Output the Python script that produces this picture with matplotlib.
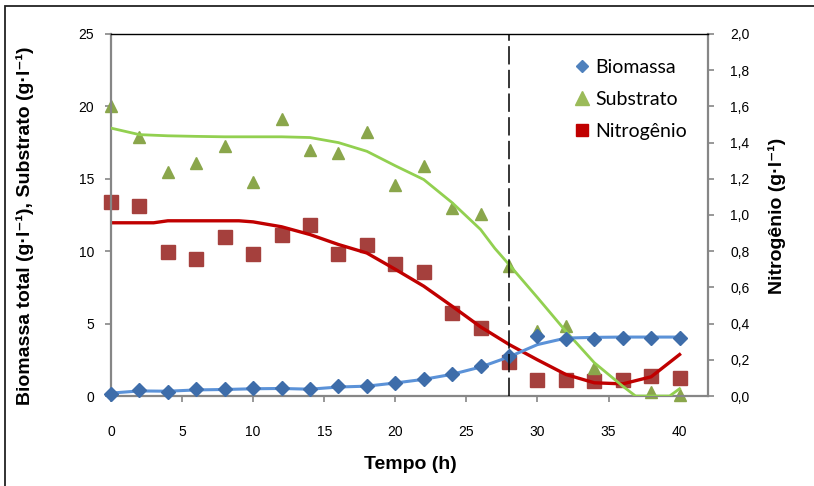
import matplotlib
matplotlib.use("Agg")
import matplotlib.pyplot as plt
from matplotlib.lines import Line2D
from matplotlib.patches import Rectangle
import numpy as np

plt.rcParams['font.family'] = ['Liberation Sans', 'DejaVu Sans']

# ---- measured data ----
tempo = [0, 2, 4, 6, 8, 10, 12, 14, 16, 18, 20, 22, 24, 26, 28, 30, 32, 34, 36, 38, 40]
biomassa = [0.17, 0.38, 0.31, 0.45, 0.45, 0.52, 0.54, 0.45, 0.68, 0.72, 0.91, 1.19,
            1.53, 2.06, 2.75, 4.13, 3.97, 3.97, 4.0, 4.0, 4.0]
substrato = [20.0, 17.9, 15.5, 16.1, 17.25, 14.8, 19.1, 17.0, 16.8, 18.2, 14.6, 15.9,
             13.0, 12.6, 9.0, 4.5, 4.8, 1.95, np.nan, 0.3, 0.05]
nitrogenio = [1.07, 1.05, 0.795, 0.758, 0.88, 0.787, 0.89, 0.947, 0.782, 0.837, 0.732,
              0.686, 0.456, 0.375, 0.187, 0.091, 0.091, 0.082, 0.091, 0.11, 0.10]

# fitted model curves
t_fit_b = [0, 2, 4, 6, 8, 10, 12, 14, 16, 18, 20, 22, 24, 26, 28, 30, 32, 34, 36, 38, 40]
biomassa_fit = [0.2, 0.35, 0.33, 0.42, 0.45, 0.5, 0.52, 0.47, 0.62, 0.68, 0.9, 1.15,
                1.5, 2.0, 2.7, 3.55, 4.0, 4.05, 4.07, 4.07, 4.07]
t_fit_s = [0, 2, 4, 6, 8, 10, 12, 14, 16, 18, 20, 22, 24, 26, 27, 28, 30, 32, 34, 36,
           36.9, 38, 39.3, 40]
substrato_fit = [18.5, 18.05, 17.97, 17.93, 17.9, 17.9, 17.9, 17.85, 17.5, 16.9, 15.9,
                 14.95, 13.35, 11.5, 10.2, 9.08, 6.8, 4.47, 2.3, 0.68, 0.0, 0.0, 0.0, 0.5]
t_fit_n = [0, 3, 4, 9, 10, 12, 14, 16, 18, 20, 22, 24, 26, 28, 30, 32, 34, 36, 38, 40]
nitrogenio_fit = [0.957, 0.957, 0.968, 0.968, 0.962, 0.935, 0.892, 0.837, 0.79, 0.70,
                  0.607, 0.496, 0.382, 0.285, 0.2, 0.119, 0.073, 0.067, 0.106, 0.229]

t_mark = 28
series_names = ['Biomassa', 'Substrato', 'Nitrogênio']
x_ticks = [0, 5, 10, 15, 20, 25, 30, 35, 40]
y_left_ticks = [0, 5, 10, 15, 20, 25]
y_right_ticks = [0.0, 0.2, 0.4, 0.6, 0.8, 1.0, 1.2, 1.4, 1.6, 1.8, 2.0]

# ---- figure ----
W, H = 814, 486
fig = plt.figure(figsize=(W / 100, H / 100), dpi=100)
L, R, T, B = 111, 708, 34, 396
ax = fig.add_axes([L / W, 1 - B / H, (R - L) / W, (B - T) / H])
ax2 = ax.twinx()
ax.set_zorder(ax2.get_zorder() + 1)
ax.patch.set_visible(False)

gray = '#868686'
c_blue_line = '#5B92D8'
c_blue_mark = '#3E6DAA'
c_green_line = '#92D050'
c_green_mark = '#8AA64B'
c_red_line = '#C00000'
c_red_mark = '#A5403D'

# nitrogen on the secondary axis
ax2.plot(tempo, nitrogenio, linestyle='none', marker='s', markersize=9.5,
         color=c_red_mark, clip_on=False, zorder=2)
ax2.plot(t_fit_n, nitrogenio_fit, color=c_red_line, lw=2.4, zorder=3)

# substrate
ax.plot(tempo, substrato, linestyle='none', marker='^', markersize=9,
        color=c_green_mark, clip_on=False, zorder=2)
ax.plot(t_fit_s, substrato_fit, color=c_green_line, lw=2.0, zorder=3)

# biomass
ax.plot(t_fit_b, biomassa_fit, color=c_blue_line, lw=2.2, zorder=3)
ax.plot(tempo, biomassa, linestyle='none', marker='D', markersize=7.5,
        color=c_blue_mark, clip_on=False, zorder=4)

# dashed marker line
ax.axvline(t_mark, color='black', lw=1.1, dashes=(12, 3.5), zorder=5)

ax.set_xlim(0, 42)
ax.set_ylim(0, 25)
ax2.set_ylim(0, 2.0)
ax.set_xticks(x_ticks)
ax.set_xticklabels([str(v) for v in x_ticks])
ax.set_yticks(y_left_ticks)
ax.set_yticklabels([str(v) for v in y_left_ticks])
ax2.set_yticks(y_right_ticks)
ax2.set_yticklabels([f'{v:.1f}'.replace('.', ',') for v in y_right_ticks])

for a in (ax, ax2):
    for s in a.spines.values():
        s.set_visible(False)
ax.spines['left'].set_visible(True)
ax.spines['left'].set_color(gray)
ax.spines['left'].set_linewidth(1.6)
ax.spines['bottom'].set_visible(True)
ax.spines['bottom'].set_color(gray)
ax.spines['bottom'].set_linewidth(1.6)
ax.spines['top'].set_visible(True)
ax.spines['top'].set_color('black')
ax.spines['top'].set_linewidth(1.0)
ax2.spines['right'].set_visible(True)
ax2.spines['right'].set_color(gray)
ax2.spines['right'].set_linewidth(1.6)

ax.tick_params(axis='y', direction='out', length=4, width=1.2, color=gray,
               labelsize=10, pad=8, labelcolor='black')
ax.tick_params(axis='x', direction='out', length=4, width=1.2, color=gray,
               labelsize=10, pad=17, labelcolor='black')
ax2.tick_params(axis='y', direction='out', length=4, width=1.2, color=gray,
                labelsize=10, pad=12, labelcolor='black')

# axis titles
fig.text(25 / W, 1 - 226 / H, 'Biomassa total (g·l⁻¹), Substrato (g·l⁻¹)',
         rotation=90, ha='center', va='center', fontsize=14, fontweight='bold')
fig.text(777 / W, 1 - 216 / H, 'Nitrogênio (g·l⁻¹)',
         rotation=90, ha='center', va='center', fontsize=14, fontweight='bold')
fig.text(410 / W, 1 - 464 / H, 'Tempo (h)', ha='center', va='center',
         fontsize=14, fontweight='bold')

# legend
handles = [
    Line2D([], [], linestyle='none', marker='D', markersize=6.5, color='#4F81BD'),
    Line2D([], [], linestyle='none', marker='^', markersize=9.5, color='#9BBB59'),
    Line2D([], [], linestyle='none', marker='s', markersize=8, color='#C00000'),
]
leg = ax.legend(handles, series_names, loc='upper left', frameon=False,
                bbox_to_anchor=((574 - L) / (R - L), 1 - (59 - T) / (B - T)),
                borderaxespad=0, borderpad=0, handlelength=0.8, handletextpad=0.3,
                labelspacing=0.77, prop={'family': ['Lato', 'DejaVu Sans'], 'size': 14})
leg.set_zorder(10)

# outer chart frame (extends past the image on the right and bottom)
fig.patches.append(Rectangle((4.5 / W, -0.1), 1.2, 1 - 6 / H + 0.1,
                             transform=fig.transFigure, fill=False,
                             edgecolor='#222222', lw=1.3))

fig.savefig('out.png', dpi=100)
